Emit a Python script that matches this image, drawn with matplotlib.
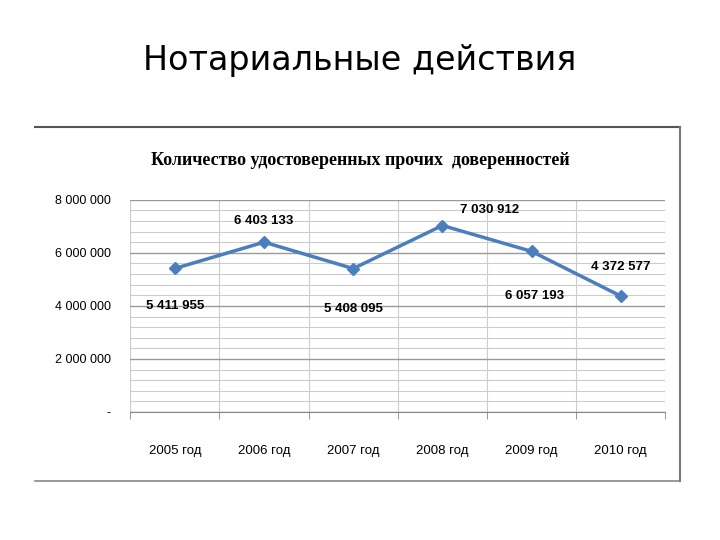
import matplotlib.pyplot as plt
from matplotlib.lines import Line2D

years = ['2005 год', '2006 год', '2007 год', '2008 год', '2009 год', '2010 год']
values = [5411955, 6403133, 5408095, 7030912, 6057193, 4372577]
labels = ['5 411 955', '6 403 133', '5 408 095', '7 030 912', '6 057 193', '4 372 577']
offsets = [(0, -27), (0, 15), (0, -29), (34, 11), (2, -32), (0, 21)]

fig = plt.figure(figsize=(7.2, 5.4), dpi=100)
fig.text(0.5, 0.87, 'Нотариальные действия', ha='center', fontsize=24, family='DejaVu Sans')

# frame of the pasted picture
fig.add_artist(Line2D([0.049, 0.945], [0.765, 0.765], color='#555555', lw=1.5))
fig.add_artist(Line2D([0.049, 0.945], [0.11, 0.11], color='#888888', lw=1.2))
fig.add_artist(Line2D([0.945, 0.945], [0.11, 0.765], color='#777777', lw=1.5))
fig.text(0.5, 0.695, 'Количество удостоверенных прочих  доверенностей', ha='center',
         fontsize=13, fontweight='bold', family='Liberation Serif')

ax = fig.add_axes([0.181, 0.237, 0.743, 0.393])
x = range(len(years))
ax.plot(x, values, color='#4a7ebf', lw=2.5, marker='D', markersize=6)
for xi, v, t, off in zip(x, values, labels, offsets):
    ax.annotate(t, (xi, v), xytext=off, textcoords='offset points', ha='center',
                va='center', fontsize=9.5, fontweight='bold', family='Liberation Sans')

ax.set_xlim(-0.5, 5.5)
ax.set_ylim(0, 8000000)
ax.set_yticks([0, 2000000, 4000000, 6000000, 8000000])
ax.set_yticklabels(['-', '2 000 000', '4 000 000', '6 000 000', '8 000 000'],
                   fontsize=9, family='Liberation Sans')
ax.set_yticks(range(0, 8000001, 400000), minor=True)
ax.set_xticks(list(x))
ax.set_xticklabels(years, fontsize=9.5, family='Liberation Sans')
ax.set_xticks([i - 0.5 for i in range(7)], minor=True)
ax.tick_params(axis='x', which='major', length=0, pad=24)
ax.tick_params(axis='x', which='minor', length=5, color='#888888')
ax.tick_params(axis='y', which='both', length=0, pad=14)
ax.grid(axis='y', which='major', color='#999999', lw=1)
ax.grid(axis='y', which='minor', color='#cccccc', lw=0.8)
ax.grid(axis='x', which='minor', color='#cccccc', lw=0.8)
for s in ['top', 'right', 'left']:
    ax.spines[s].set_visible(False)
ax.spines['bottom'].set_color('#888888')

fig.savefig('out.png', dpi=100)
